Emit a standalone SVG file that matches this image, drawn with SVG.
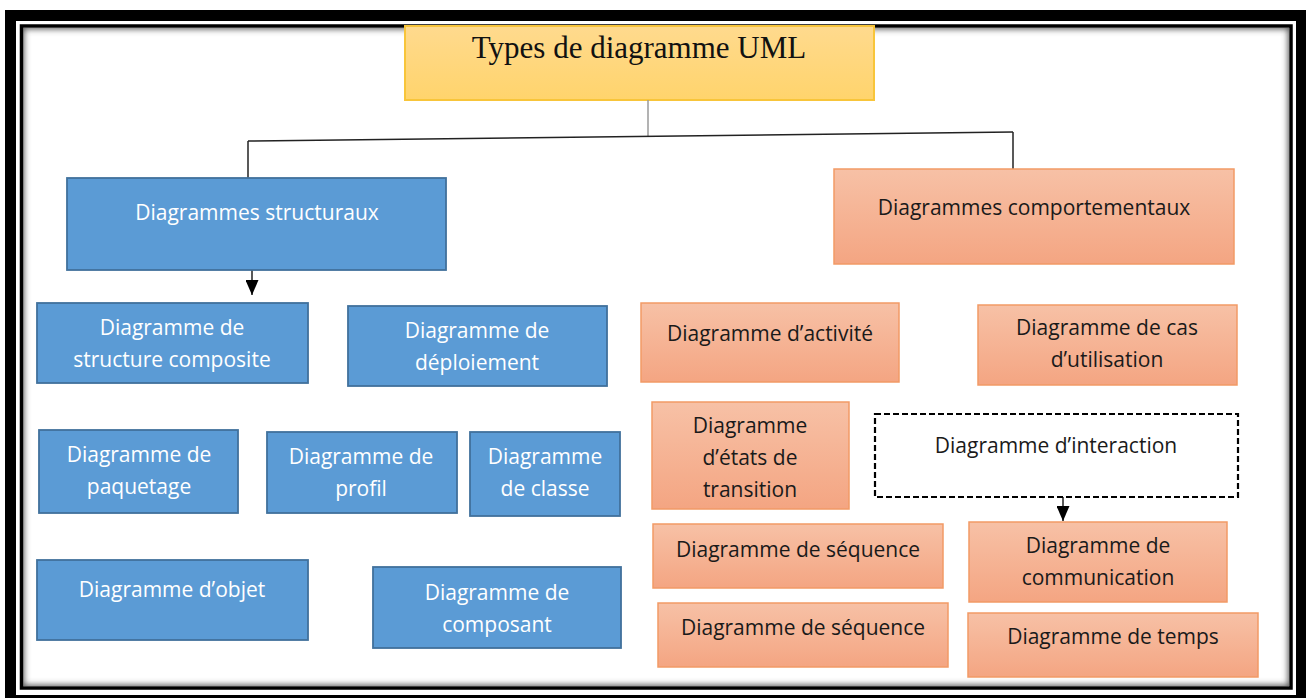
<svg xmlns="http://www.w3.org/2000/svg" width="1306" height="698" viewBox="0 0 1306 698">
<defs>
<linearGradient id="gY" x1="0" y1="0" x2="0" y2="1"><stop offset="0" stop-color="#FFDA8E"/><stop offset="1" stop-color="#FFD46C"/></linearGradient>
<linearGradient id="gS" x1="0" y1="0" x2="0" y2="1"><stop offset="0" stop-color="#F7C1A6"/><stop offset="1" stop-color="#F4A582"/></linearGradient>
<clipPath id="inner"><rect x="23" y="28" width="1266" height="658"/></clipPath>
<filter id="blur" x="-5%" y="-5%" width="110%" height="110%"><feGaussianBlur stdDeviation="3"/></filter>
<marker id="arr" markerWidth="15" markerHeight="13" refX="15" refY="6.5" orient="auto" markerUnits="userSpaceOnUse" viewBox="0 0 15 13"><path d="M0,0 L15,6.5 L0,13 Z" fill="#000"/></marker>
<style>
.blue rect{fill:#5B9BD5;stroke:#41719C;stroke-width:1.8}
.sal rect{fill:url(#gS);stroke:#F29A66;stroke-width:1.5}
.blue text{fill:#FFFFFF;font-family:"Open Sans","Noto Sans",sans-serif;font-size:21px;text-anchor:middle}
.sal text,.dash text{fill:#1A1A1A;font-family:"Open Sans","Noto Sans",sans-serif;font-size:21px;text-anchor:middle}
.con line{stroke:#222;stroke-width:1.5}
</style>
</defs>
<rect width="1306" height="698" fill="#FFFFFF"/>
<!-- frame -->
<g id="frame">
<rect x="10.5" y="15.5" width="1291" height="685" fill="none" stroke="#000" stroke-width="11"/>
<rect x="21.5" y="26" width="1269.5" height="662" fill="none" stroke="#000" stroke-width="3.5"/>
<g clip-path="url(#inner)"><rect x="20" y="25" width="1272" height="664" fill="none" stroke="#555" stroke-width="8" filter="url(#blur)"/></g>
</g>
<!-- title -->
<g id="title">
<rect x="405" y="26" width="469" height="74" fill="url(#gY)" stroke="#F8C53A" stroke-width="2"/>
<text x="639" y="58" font-family="'Liberation Serif','Times New Roman',serif" font-size="31" fill="#111" text-anchor="middle">Types de diagramme UML</text>
</g>
<!-- connectors -->
<g id="connectors" class="con">
<line x1="648" y1="100" x2="648" y2="136" style="stroke:#9A9A9A"/>
<line x1="248" y1="141" x2="1013" y2="132"/>
<line x1="248" y1="141" x2="248" y2="180"/>
<line x1="1013" y1="132" x2="1013" y2="170"/>
<line x1="252" y1="270" x2="252" y2="295" marker-end="url(#arr)"/>
<line x1="1063" y1="497" x2="1063" y2="521" marker-end="url(#arr)"/>
</g>
<!-- structural -->
<g id="n-struct" class="blue"><rect x="67" y="178" width="379" height="92"/><text x="257" y="220">Diagrammes structuraux</text></g>
<g id="n-composite" class="blue"><rect x="37" y="303" width="271" height="80"/><text x="172" y="335">Diagramme de</text><text x="172" y="367">structure composite</text></g>
<g id="n-deploiement" class="blue"><rect x="348" y="306" width="259" height="80"/><text x="477" y="338">Diagramme de</text><text x="477" y="370">déploiement</text></g>
<g id="n-paquetage" class="blue"><rect x="39" y="430" width="199" height="83"/><text x="139" y="462">Diagramme de</text><text x="139" y="494">paquetage</text></g>
<g id="n-profil" class="blue"><rect x="267" y="432" width="190" height="81"/><text x="361" y="464">Diagramme de</text><text x="361" y="496">profil</text></g>
<g id="n-classe" class="blue"><rect x="470" y="432" width="150" height="84"/><text x="545" y="464">Diagramme</text><text x="545" y="496">de classe</text></g>
<g id="n-objet" class="blue"><rect x="37" y="560" width="271" height="80"/><text x="172" y="597">Diagramme d’objet</text></g>
<g id="n-composant" class="blue"><rect x="373" y="567" width="248" height="81"/><text x="497" y="600">Diagramme de</text><text x="497" y="632">composant</text></g>
<!-- behavioural -->
<g id="n-comport" class="sal"><rect x="834" y="169" width="400" height="95"/><text x="1034" y="215">Diagrammes comportementaux</text></g>
<g id="n-activite" class="sal"><rect x="641" y="303" width="258" height="79"/><text x="770" y="341">Diagramme d’activité</text></g>
<g id="n-cas" class="sal"><rect x="978" y="305" width="259" height="80"/><text x="1107" y="335">Diagramme de cas</text><text x="1107" y="367">d’utilisation</text></g>
<g id="n-etats" class="sal"><rect x="652" y="402" width="197" height="107"/><text x="750" y="433">Diagramme</text><text x="750" y="465">d’états de</text><text x="750" y="497">transition</text></g>
<g id="n-interaction" class="dash"><rect x="875" y="414" width="363" height="83" fill="#FFFFFF" stroke="#000" stroke-width="2.2" stroke-dasharray="6,3"/><text x="1056" y="453">Diagramme d’interaction</text></g>
<g id="n-sequence1" class="sal"><rect x="653" y="524" width="290" height="64"/><text x="798" y="557">Diagramme de séquence</text></g>
<g id="n-communication" class="sal"><rect x="969" y="522" width="258" height="80"/><text x="1098" y="553">Diagramme de</text><text x="1098" y="585">communication</text></g>
<g id="n-sequence2" class="sal"><rect x="658" y="603" width="290" height="64"/><text x="803" y="635">Diagramme de séquence</text></g>
<g id="n-temps" class="sal"><rect x="968" y="613" width="290" height="64"/><text x="1113" y="644">Diagramme de temps</text></g>
</svg>
